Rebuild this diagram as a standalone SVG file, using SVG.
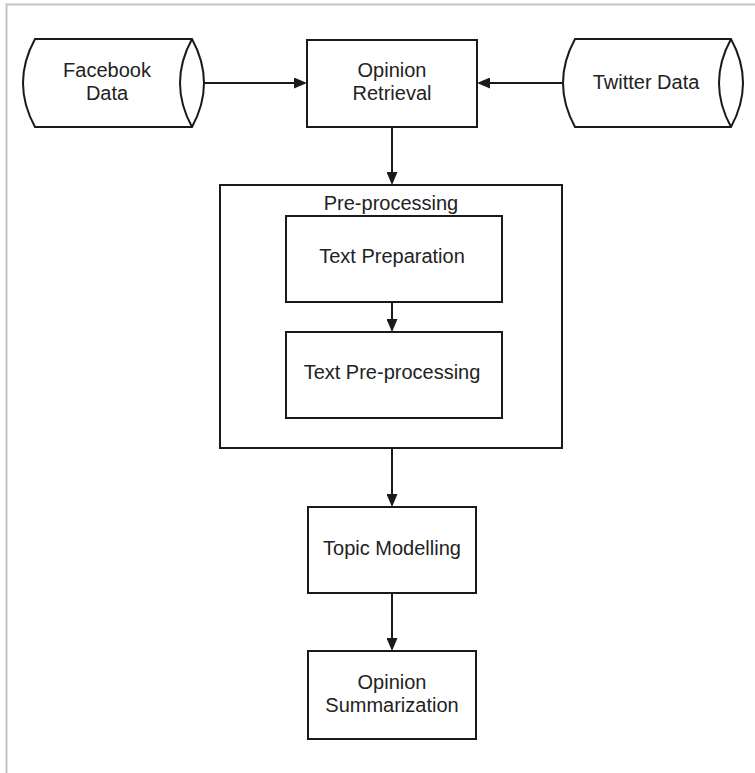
<svg xmlns="http://www.w3.org/2000/svg" width="755" height="773" viewBox="0 0 755 773">
<style>
.frame{fill:none;stroke:#c3c3c3;stroke-width:2}
.shape{fill:#fff;stroke:#1a1a1a;stroke-width:2}
.lens{fill:none;stroke:#1a1a1a;stroke-width:2}
.edge{fill:none;stroke:#1a1a1a;stroke-width:2}
text{font-family:"Liberation Sans",Arial,sans-serif;font-size:20px;fill:#222;text-anchor:middle}
</style>
<defs>
<marker id="arrow" markerUnits="userSpaceOnUse" markerWidth="13" markerHeight="11" refX="9" refY="5.5" orient="auto">
<path d="M0,0 L13,5.5 L0,11 z" fill="#1a1a1a"/>
</marker>
</defs>
<rect width="755" height="773" fill="#fff"/>
<path class="frame" d="M6.5,773 V4.5 H755"/>

<g id="facebook-data">
<path class="shape" d="M35,39 H192 Q216,83 192,127 H35 Q11,83 35,39 z"/>
<path class="lens" d="M192,39 Q168,83 192,127"/>
<text x="107" y="77">Facebook</text>
<text x="107" y="100">Data</text>
</g>

<g id="opinion-retrieval">
<rect class="shape" x="307" y="40" width="170" height="87"/>
<text x="392" y="77">Opinion</text>
<text x="392" y="100">Retrieval</text>
</g>

<g id="twitter-data">
<path class="shape" d="M575,39 H731 Q755,83 731,127 H575 Q551,83 575,39 z"/>
<path class="lens" d="M731,39 Q707,83 731,127"/>
<text x="646" y="89">Twitter Data</text>
</g>

<g id="pre-processing">
<rect class="shape" x="220" y="185" width="342" height="263"/>
<text x="391" y="210">Pre-processing</text>
</g>

<g id="text-preparation">
<rect class="shape" x="286" y="216" width="216" height="86"/>
<text x="392" y="263">Text Preparation</text>
</g>

<g id="text-pre-processing">
<rect class="shape" x="286" y="332" width="216" height="86"/>
<text x="392" y="379">Text Pre-processing</text>
</g>

<g id="topic-modelling">
<rect class="shape" x="308" y="507" width="168" height="86"/>
<text x="392" y="555">Topic Modelling</text>
</g>

<g id="opinion-summarization">
<rect class="shape" x="308" y="651" width="168" height="88"/>
<text x="392" y="689">Opinion</text>
<text x="392" y="712">Summarization</text>
</g>

<g id="connectors">
<path class="edge" d="M204,83 H303" marker-end="url(#arrow)"/>
<path class="edge" d="M563,83 H481" marker-end="url(#arrow)"/>
<path class="edge" d="M392,127 V181" marker-end="url(#arrow)"/>
<path class="edge" d="M392,302 V328" marker-end="url(#arrow)"/>
<path class="edge" d="M392,448 V503" marker-end="url(#arrow)"/>
<path class="edge" d="M392,593 V647" marker-end="url(#arrow)"/>
</g>
</svg>
